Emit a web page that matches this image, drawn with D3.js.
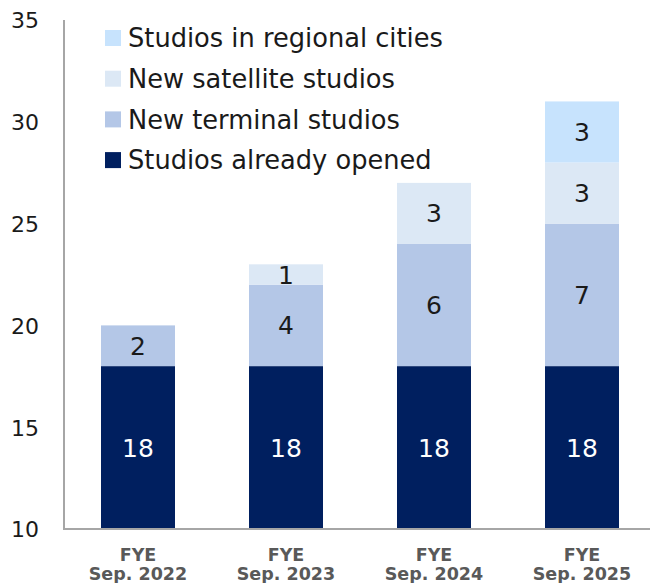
<!DOCTYPE html>
<html>
<head>
<meta charset="utf-8">
<script src="https://cdn.jsdelivr.net/npm/d3@7"></script>
<style>
  html, body { margin: 0; padding: 0; background: #ffffff; }
  svg { display: block; }
  text { font-family: "DejaVu Sans", Verdana, sans-serif; }
</style>
</head>
<body>
<svg id="chart" width="650" height="583"></svg>
<script>
// Studio counts by fiscal year end, stacked by studio type
const years = ["Sep. 2022", "Sep. 2023", "Sep. 2024", "Sep. 2025"];
const alreadyOpened = [18, 18, 18, 18];
const newTerminal = [2, 4, 6, 7];
const newSatellite = [0, 1, 3, 3];
const regionalCities = [0, 0, 0, 3];

const seriesNames = [
  "Studios already opened",
  "New terminal studios",
  "New satellite studios",
  "Studios in regional cities"
];
const seriesColors = ["#001F5F", "#B4C7E7", "#DCE8F5", "#C7E3FD"];
const labelColors = ["#ffffff", "#1a1a1a", "#1a1a1a", "#1a1a1a"];
const yTicks = [10, 15, 20, 25, 30, 35];

const rows = years.map((yr, i) => ({
  year: yr,
  s0: alreadyOpened[i],
  s1: newTerminal[i],
  s2: newSatellite[i],
  s3: regionalCities[i]
}));
const keys = ["s0", "s1", "s2", "s3"];

const svg = d3.select("#chart");
const plotLeft = 64, plotRight = 656, plotTop = 20, plotBottom = 529;

const x = d3.scaleBand().domain(years).range([plotLeft, plotRight])
  .paddingInner(0.5).paddingOuter(0.25);
const y = d3.scaleLinear().domain([10, 35]).range([plotBottom, plotTop]);
const yMin = y.domain()[0];

const stacked = d3.stack().keys(keys)(rows);
// visible extent of a segment (the axis starts at 10)
const lo = d => Math.max(d[0], yMin);

// bars
const layers = svg.append("g").selectAll("g").data(stacked).join("g")
  .attr("fill", (d, i) => seriesColors[i]);
layers.selectAll("rect").data(d => d.filter(p => p[1] - p[0] > 0)).join("rect")
  .attr("x", d => x(d.data.year))
  .attr("width", x.bandwidth())
  .attr("y", d => y(d[1]))
  .attr("height", d => y(lo(d)) - y(d[1]));

// value labels
const labels = svg.append("g").selectAll("g").data(stacked).join("g")
  .attr("fill", (d, i) => labelColors[i]);
labels.selectAll("text").data(d => d.filter(p => p[1] - p[0] > 0)).join("text")
  .attr("x", d => x(d.data.year) + x.bandwidth() / 2)
  .attr("y", d => y((lo(d) + d[1]) / 2))
  .attr("dy", "0.36em")
  .attr("text-anchor", "middle")
  .attr("font-size", 25)
  .text(d => d[1] - d[0]);

// axis lines
svg.append("line")
  .attr("x1", plotLeft).attr("x2", plotLeft).attr("y1", y(35)).attr("y2", plotBottom)
  .attr("stroke", "#A6A6A6").attr("stroke-width", 2);
svg.append("line")
  .attr("x1", plotLeft - 1).attr("x2", 650).attr("y1", plotBottom).attr("y2", plotBottom)
  .attr("stroke", "#A6A6A6").attr("stroke-width", 2);

// y tick labels
const yAxis = d3.axisLeft(y).tickValues(yTicks).tickSize(0).tickPadding(0);
const yg = svg.append("g").attr("transform", "translate(39,0)").call(yAxis);
yg.select(".domain").remove();
yg.selectAll("text")
  .attr("font-size", 22)
  .attr("font-family", "DejaVu Sans, sans-serif")
  .attr("fill", "#1a1a1a")
  .attr("dy", "0.36em");

// x category labels
const xg = svg.append("g").selectAll("text").data(years).join("text")
  .attr("x", d => x(d) + x.bandwidth() / 2)
  .attr("text-anchor", "middle")
  .attr("font-size", 17.5)
  .attr("font-weight", "bold")
  .attr("fill", "#595959");
xg.append("tspan").attr("x", d => x(d) + x.bandwidth() / 2).attr("y", 561).text("FYE");
xg.append("tspan").attr("x", d => x(d) + x.bandwidth() / 2).attr("y", 580).text(d => d);

// legend (top entry is the top segment)
const legendOrder = [3, 2, 1, 0];
const lg = svg.append("g").selectAll("g").data(legendOrder).join("g")
  .attr("transform", (d, i) => `translate(105, ${30 + i * 40.7})`);
lg.append("rect").attr("width", 16).attr("height", 16)
  .attr("fill", d => seriesColors[d]);
lg.append("text").attr("x", 23).attr("y", 8).attr("dy", "0.36em")
  .attr("font-size", 25.7).attr("fill", "#1a1a1a")
  .text(d => seriesNames[d]);
</script>
</body>
</html>
